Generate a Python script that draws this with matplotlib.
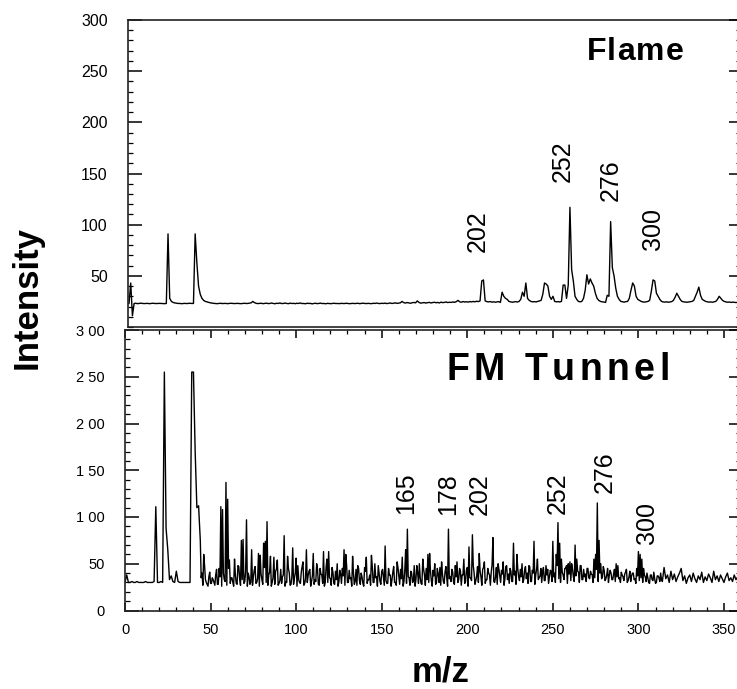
import numpy as np
import matplotlib
matplotlib.use("Agg")
import matplotlib.pyplot as plt
from matplotlib.ticker import MultipleLocator, FixedLocator
from matplotlib.font_manager import FontProperties

plt.rcParams['font.family'] = ['Liberation Sans', 'DejaVu Sans']

# ---------------- data ----------------
# Flame spectrum (upper panel), one value per m/z unit starting at m/z = -8
flame_start = -8
flame_intensity = [
    23, 43, 11, 23, 23.2, 22.8, 23, 23.3, 23, 22.9,
    23, 23.1, 22.8, 23, 23.2, 23, 22.9, 23, 23.1, 23,
    23, 22.8, 23, 91, 28, 25, 24, 23.5, 23.2, 23,
    23, 22.8, 23, 23.1, 22.9, 23, 23.2, 23, 23, 91,
    63, 40, 32, 28, 26, 25, 24.5, 24, 23.6, 23.3,
    23.1, 23, 22.8, 23, 23.2, 22.9, 23, 23.1, 22.8, 23,
    23.2, 23, 22.9, 23, 23.1, 23, 22.8, 23, 23.2, 23,
    23, 23.3, 23.6, 25, 23.8, 23.1, 22.9, 23, 23.2, 22.8,
    23, 23.3, 22.9, 23, 23.4, 23, 22.7, 23.2, 23, 23.5,
    22.9, 23, 23.4, 23, 22.8, 23.3, 23, 23.1, 22.8, 23.2,
    23, 23.5, 22.9, 23, 22.7, 23.2, 23, 23.1, 22.6, 23,
    23.2, 22.8, 23, 23.3, 22.9, 23, 22.7, 23.1, 23, 22.8,
    23, 23.2, 22.9, 23, 22.8, 23.1, 23, 22.9, 23.2, 23,
    22.8, 23, 23.1, 22.9, 23, 23.2, 22.8, 23, 23.3, 23,
    22.9, 23.1, 23, 22.8, 23.2, 23, 23.4, 23, 22.9, 23.2,
    23, 23.3, 22.9, 23.1, 23.5, 23, 23.2, 23.6, 23.1, 23.4,
    23.6, 25, 23.8, 23.4, 23.9, 23.5, 23.2, 23.7, 24, 23.6,
    25.5, 24, 23.3, 23.6, 23.9, 23.4, 23.8, 24.1, 23.5, 23.9,
    24.2, 23.7, 24, 23.5, 24.3, 23.8, 24.1, 24.4, 23.9, 24.2,
    24, 24.5, 24.1, 24.8, 26, 24.6, 24.2, 24.9, 24.4, 24.7,
    24.3, 24.9, 24.5, 25, 24.6, 25.2, 24.8, 25.5, 45, 46,
    25.5, 24.8, 24.5, 24.9, 24.3, 24.6, 24.2, 24.5, 24.8, 24,
    34, 30, 28, 27, 25, 24.6, 24.2, 24.5, 24.8, 24.4,
    25, 27, 34, 30, 43, 28, 26, 25, 24.6, 24.8,
    24.5, 25, 25.5, 26, 32, 43, 42, 40, 30, 27,
    30, 25, 24.6, 24.8, 24.5, 25, 41, 41, 28, 41,
    117, 56, 45, 30, 27, 25, 24.6, 25, 28, 36,
    51, 42, 47, 43, 40, 33, 28, 26, 25, 24.6,
    24.4, 24, 31, 30, 103, 58, 50, 38, 30, 27,
    25, 24.6, 24.3, 24.8, 25, 28, 36, 43, 40, 30,
    27, 26, 25, 24.5, 24.3, 24.6, 25, 26, 35, 46,
    45, 33, 30, 27, 25, 24.5, 24.3, 24.6, 24.2, 24.5,
    24.8, 26, 29, 33, 30, 27, 25, 24.6, 24.4, 24.2,
    24.5, 24.8, 25, 26, 30, 34, 39, 31, 27, 26,
    25, 24.6, 24.3, 24.5, 24.2, 24.6, 25, 27, 30, 28,
    26, 25, 24.5, 24.2, 24.4, 24, 24.3, 24.1, 23.9, 24.2,
]

# FM Tunnel spectrum (lower panel), one value per m/z unit starting at m/z = 0
tunnel_start = 0
tunnel_intensity = [
    30, 38, 30, 30, 31, 30, 30, 31, 30, 30,
    30, 30, 31, 30, 30, 30, 30, 31, 111, 30,
    30, 31, 30, 255, 88, 65, 33, 37, 31, 30,
    42, 31, 30, 30, 30, 30, 30, 30, 30, 255,
    255, 170, 110, 112, 75, 40, 60, 33, 28, 36,
    29, 35, 30, 38, 28, 45, 111, 108, 33, 137,
    119, 54, 35, 30, 55, 29, 48, 34, 75, 76,
    31, 97, 40, 28, 65, 36, 47, 30, 61, 59,
    33, 72, 74, 95, 38, 58, 30, 57, 42, 54,
    29, 44, 36, 80, 31, 58, 40, 28, 67, 35,
    56, 48, 30, 41, 52, 29, 65, 37, 44, 31,
    61, 33, 50, 28, 45, 38, 63, 30, 55, 63,
    34, 46, 29, 42, 50, 31, 39, 45, 65, 60,
    30, 43, 35, 58, 28, 44, 48, 32, 40, 29,
    46, 57, 33, 38, 59, 30, 50, 36, 48, 31,
    42, 35, 69, 29, 45, 38, 33, 47, 30, 52,
    37, 44, 57, 31, 65, 87, 35, 42, 30, 48,
    33, 40, 50, 29, 55, 38, 45, 60, 61, 32,
    43, 50, 30, 39, 46, 52, 31, 41, 35, 87,
    36, 44, 30, 48, 52, 33, 42, 38, 55, 31,
    46, 68, 35, 81, 40, 32, 47, 61, 36, 44,
    52, 33, 45, 38, 41, 78, 30, 46, 50, 37,
    43, 52, 34, 48, 39, 45, 31, 72, 42, 60,
    36, 44, 50, 33, 47, 40, 48, 31, 43, 74,
    38, 55, 35, 45, 41, 32, 48, 44, 36, 42,
    74, 40, 60, 94, 72, 55, 38, 45, 48, 50,
    52, 50, 36, 70, 55, 41, 48, 33, 44, 39,
    45, 35, 42, 38, 55, 60, 115, 75, 50, 36,
    43, 34, 45, 38, 40, 33, 44, 50, 48, 35,
    41, 36, 39, 44, 32, 42, 37, 40, 34, 45,
    63, 60, 55, 45, 36, 40, 30, 38, 33, 41,
    29, 37, 35, 40, 31, 46, 34, 38, 30, 42,
    33, 39, 31, 36, 40, 45, 32, 37, 29, 35,
    38, 31, 40, 34, 30, 37, 33, 41, 30, 36,
    32, 39, 35, 30, 42, 33, 37, 31, 38, 34,
    30, 36, 40, 32, 35, 31, 38, 33, 36, 34,
]

# FM Tunnel readings at the half-unit positions (m/z = 44.5, 45.5, ...)
tunnel_half_start = 44.5
tunnel_half_intensity = [
    35, 27, 48, 30, 26, 41, 29, 33, 27, 44,
    28, 36, 26, 40, 31, 27, 45, 29, 35, 26,
    38, 28, 47, 27, 33, 29, 42, 26, 36, 30,
    27, 43, 29, 34, 26, 39, 28, 46, 30, 27,
    41, 26, 35, 28, 44, 27, 32, 29, 38, 26,
    30, 45, 27, 36, 28, 40, 26, 33, 29, 47,
    27, 34, 30, 42, 26, 37, 28, 31, 44, 27,
    39, 29, 26, 46, 30, 35, 27, 41, 28, 33,
    26, 43, 29, 37, 27, 48, 30, 34, 26, 40,
    31, 27, 45, 28, 36, 26, 42, 29, 33, 27,
    47, 30, 35, 26, 39, 28, 44, 27, 32, 29,
    38, 26, 41, 30, 27, 46, 28, 34, 26, 43,
    29, 36, 27, 40, 31, 26, 48, 29, 35, 28,
    44, 27, 33, 30, 42, 26, 37, 28, 45, 30,
    27, 39, 29, 47, 26, 34, 31, 41, 28, 36,
    30, 45, 27, 38, 29, 43, 26, 35, 32, 48,
    28, 37, 30, 42, 27, 46, 29, 33, 40, 27,
    49, 31, 36, 28, 44, 30, 39, 27, 47, 33,
    29, 42, 31, 38, 28, 45, 32, 36, 30, 43,
    34, 29, 47, 31, 40, 28, 44, 33, 37, 30,
    46, 32, 38, 29, 43, 31, 36, 30, 48, 34,
    30, 41, 33, 45, 29, 39, 32, 44, 31, 37,
    42, 30, 48, 33, 36, 31, 45, 34, 39, 30,
    35, 44, 31, 40, 34, 47, 32, 38, 30, 43,
    33, 39, 31, 36, 34, 30, 38, 32, 41, 30,
    36, 31, 40, 33, 29, 37, 32, 35, 30, 38,
    31, 35, 29, 38, 32, 34, 30, 37, 31, 33,
]

flame_labels = ["202", "252", "276", "300"]
flame_label_x = [197.8, 247.9, 276.2, 301.0]
flame_label_y = [94, 162, 143, 96]

tunnel_labels = ["165", "178", "202", "252", "276", "300"]
tunnel_label_x = [164.0, 188.6, 207.2, 252.8, 280.2, 305.3]
tunnel_label_y = [125, 124, 124, 126, 148, 94]

flame_yticks = [50, 100, 150, 200, 250, 300]
flame_yticklabels = ["50", "100", "150", "200", "250", "300"]
tunnel_yticks = [0, 50, 100, 150, 200, 250, 300]
tunnel_yticklabels = ["0", "50", "1 00", "1 50", "2 00", "2 50", "3 00"]
tunnel_xticks = [0, 50, 100, 150, 200, 250, 300, 350]

# ---------------- figure ----------------
W, H = 737, 689
fig = plt.figure(figsize=(W / 100, H / 100), dpi=100)


def fr(x0, y_top, x1, y_bot):
    return [x0 / W, 1 - y_bot / H, (x1 - x0) / W, (y_bot - y_top) / H]


ax1 = fig.add_axes(fr(128, 20, 738, 327))
ax2 = fig.add_axes(fr(125, 330, 738, 610.5))

fx = np.arange(len(flame_intensity)) + flame_start
ax1.plot(fx, flame_intensity, color='black', lw=1.0)

tx_full = np.arange(len(tunnel_intensity)) + tunnel_start
tx_half = np.arange(len(tunnel_half_intensity)) + tunnel_half_start
tx = np.concatenate([tx_full, tx_half])
ty = np.concatenate([np.asarray(tunnel_intensity, float),
                     np.asarray(tunnel_half_intensity, float)])
order = np.argsort(tx, kind='stable')
ax2.plot(tx[order], ty[order], color='black', lw=1.0)

ax1.set_xlim(-8.6, 351.1)
ax1.set_ylim(0, 300)
ax2.set_xlim(0, 358.2)
ax2.set_ylim(0, 300)

for ax in (ax1, ax2):
    ax.spines['right'].set_visible(False)
    for s in ('left', 'top', 'bottom'):
        ax.spines[s].set_linewidth(1.2)
        ax.spines[s].set_color('#222222')

# upper panel ticks
ax1.set_xticks([])
ax1.yaxis.set_major_locator(FixedLocator(flame_yticks))
ax1.set_yticklabels(flame_yticklabels)
ax1.yaxis.set_minor_locator(MultipleLocator(10))
ax1.tick_params(axis='y', which='major', direction='in', length=10, width=1.1,
                pad=14.5, labelsize=11.5, left=True, right=False)
ax1.tick_params(axis='y', which='minor', direction='in', length=3.6, width=0.9,
                left=True, right=False)

# lower panel ticks
ax2.yaxis.set_major_locator(FixedLocator(tunnel_yticks))
ax2.set_yticklabels(tunnel_yticklabels)
ax2.yaxis.set_minor_locator(MultipleLocator(10))
ax2.tick_params(axis='y', which='major', direction='in', length=10, width=1.1,
                pad=14.5, labelsize=10.5, left=True, right=False)
ax2.tick_params(axis='y', which='minor', direction='in', length=3.6, width=0.9,
                left=True, right=False)
ax2.set_xticks(tunnel_xticks)
ax2.xaxis.set_minor_locator(MultipleLocator(10))
ax2.tick_params(axis='x', which='major', direction='in', length=6, width=1.1,
                pad=9, labelsize=10.5, top=True, bottom=True)
ax2.tick_params(axis='x', which='minor', direction='in', length=2.8, width=0.9,
                top=True, bottom=True)

# right-hand ticks (shorter), drawn on twin axes without spines
for ax, ticks in ((ax1, flame_yticks), (ax2, tunnel_yticks)):
    tw = ax.twinx()
    tw.set_ylim(ax.get_ylim())
    for s in tw.spines.values():
        s.set_visible(False)
    tw.yaxis.set_major_locator(FixedLocator(ticks))
    tw.yaxis.set_minor_locator(MultipleLocator(10))
    tw.tick_params(axis='y', which='major', direction='in', length=6.5, width=1.1,
                   labelright=False)
    tw.tick_params(axis='y', which='minor', direction='in', length=1.5, width=0.9)

# peak labels
for lab, x, y in zip(flame_labels, flame_label_x, flame_label_y):
    ax1.text(x, y, lab, rotation=90, ha='center', va='center', fontsize=18)
for lab, x, y in zip(tunnel_labels, tunnel_label_x, tunnel_label_y):
    ax2.text(x, y, lab, rotation=90, ha='center', va='center', fontsize=18)

# spaced bold titles
renderer = fig.canvas.get_renderer()


def adv_width(ch, fp):
    w1, _, _ = renderer.get_text_width_height_descent("|" + ch + "|", fp, ismath=False)
    w0, _, _ = renderer.get_text_width_height_descent("||", fp, ismath=False)
    return w1 - w0


def spaced_text(s, cx, base, size, gap):
    fp = FontProperties(family='Liberation Sans', weight='bold', size=size)
    widths = [adv_width(c, fp) for c in s]
    total = sum(widths) + gap * (len(s) - 1)
    x = cx - total / 2
    for c, w in zip(s, widths):
        if c != ' ':
            fig.text(x / W, 1 - base / H, c, fontproperties=fp,
                     ha='left', va='baseline')
        x += w + gap


spaced_text("Flame", 635, 60, 23, 1.2)
spaced_text("FM Tunnel", 558, 380, 27, 4.4)

fig.text(27 / W, 1 - 298 / H, "Intensity", rotation=90, ha='center', va='center',
         fontsize=25, fontweight='bold')
fig.text(441 / W, 1 - 682 / H, "m/z", ha='center', va='baseline',
         fontsize=25, fontweight='bold')

fig.savefig("out.png", dpi=100)
